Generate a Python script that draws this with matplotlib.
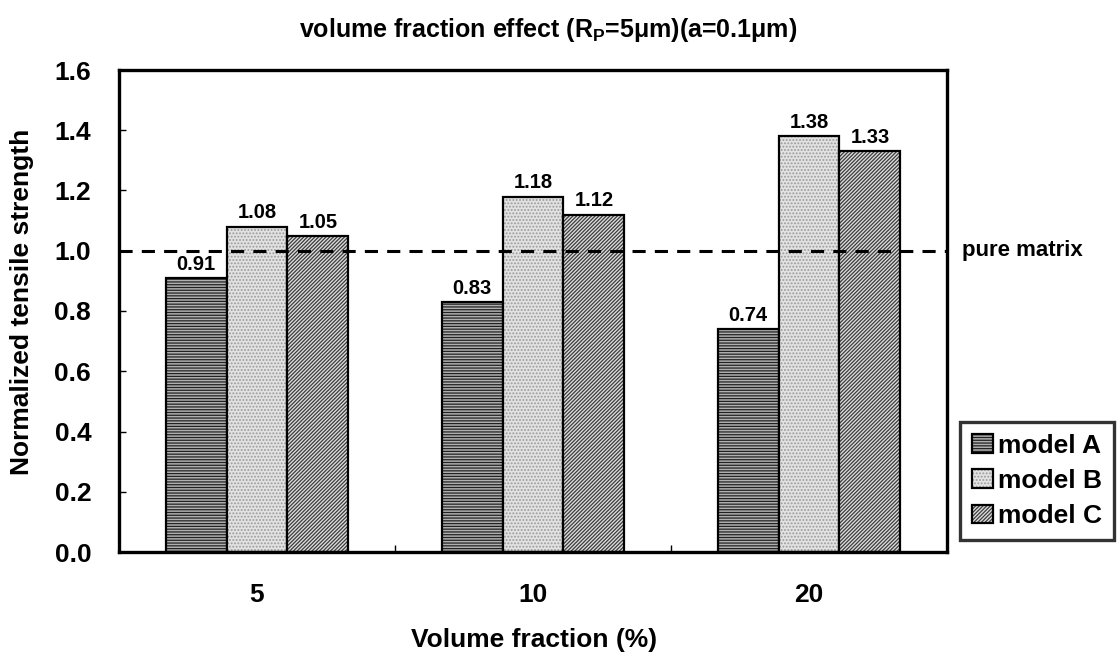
import matplotlib

matplotlib.use("Agg")

import matplotlib.pyplot as plt
import numpy as np

plt.rcParams["font.family"] = ["Liberation Sans", "DejaVu Sans"]
plt.rcParams["font.weight"] = "bold"
plt.rcParams["mathtext.fontset"] = "custom"
plt.rcParams["mathtext.rm"] = "Liberation Sans:bold"
plt.rcParams["mathtext.bf"] = "Liberation Sans:bold"
plt.rcParams["hatch.linewidth"] = 0.9

categories = ["5", "10", "20"]
series_names = ["model A", "model B", "model C"]
model_a = [0.91, 0.83, 0.74]
model_b = [1.08, 1.18, 1.38]
model_c = [1.05, 1.12, 1.33]
reference_level = 1.0

faces = ["#b0b0b0", "#e2e2e2", "#dcdcdc"]
hatches = ["------", ".....", "/////////"]
hatch_colors = ["#222222", "#9a9a9a", "#3c3c3c"]

W, H = 1120, 656
fig = plt.figure(figsize=(W / 100, H / 100), dpi=100)
ax = fig.add_axes([119 / W, 1 - 552 / H, (947 - 119) / W, (552 - 70) / H])

x = np.arange(len(categories))
width = 0.221
for i, (vals, name) in enumerate(zip([model_a, model_b, model_c], series_names)):
    bars = ax.bar(x + (i - 1) * width, vals, width, facecolor=faces[i],
                  edgecolor="black", linewidth=1.6, hatch=hatches[i], label=name)
    for b in bars:
        b._hatch_color = matplotlib.colors.to_rgba(hatch_colors[i])
    for b, v in zip(bars, vals):
        ax.annotate(f"{v:.2f}", (b.get_x() + b.get_width() / 2, v),
                    xytext=(0, 3), textcoords="offset points",
                    ha="center", va="bottom", fontsize=14.5, fontweight="bold")

ax.axhline(reference_level, color="black", lw=2.2, ls=(0, (4.3, 3)))
ax.text(962 / W, reference_level, "pure matrix",
        transform=matplotlib.transforms.blended_transform_factory(fig.transFigure, ax.transData),
        ha="left", va="center", fontsize=16, fontweight="bold")

ax.set_xlim(-0.5, len(categories) - 0.5)
ax.set_ylim(0, 1.6)
yt = np.arange(0, 1.61, 0.2)
ax.set_yticks(yt)
ax.set_yticklabels([f"{t:.1f}" for t in yt])
ax.set_xticks(x)
ax.set_xticklabels(categories)
ax.set_xticks(np.arange(-0.5, len(categories), 1.0), minor=True)
ax.tick_params(axis="x", which="major", length=0, pad=22, labelsize=19)
ax.tick_params(axis="x", which="minor", length=5, width=1, direction="in")
ax.tick_params(axis="y", length=5, width=1, direction="in", pad=20, labelsize=19)
for s in ax.spines.values():
    s.set_linewidth(2.4)

fig.text(534.5 / W, 1 - 640 / H, "Volume fraction (%)", ha="center", va="center",
         fontsize=19, fontweight="bold")
fig.text(22 / W, 1 - 302 / H, "Normalized tensile strength", rotation=90,
         ha="center", va="center", fontsize=19, fontweight="bold")
fig.text(548 / W, 1 - 30 / H, r"volume fraction effect (R$_\mathregular{P}$=5μm)(a=0.1μm)",
         ha="center", va="center", fontsize=18, fontweight="bold")

leg = ax.legend(loc="upper left", bbox_to_anchor=(960 / W, 1 - 422 / H),
                bbox_transform=fig.transFigure, fontsize=19,
                frameon=True, fancybox=False, edgecolor="black",
                handlelength=0.8, handleheight=0.7, handletextpad=0.2,
                borderpad=0.45, labelspacing=0.42, borderaxespad=0)
leg.get_frame().set_linewidth(2.4)

fig.savefig("out.png", dpi=100)
